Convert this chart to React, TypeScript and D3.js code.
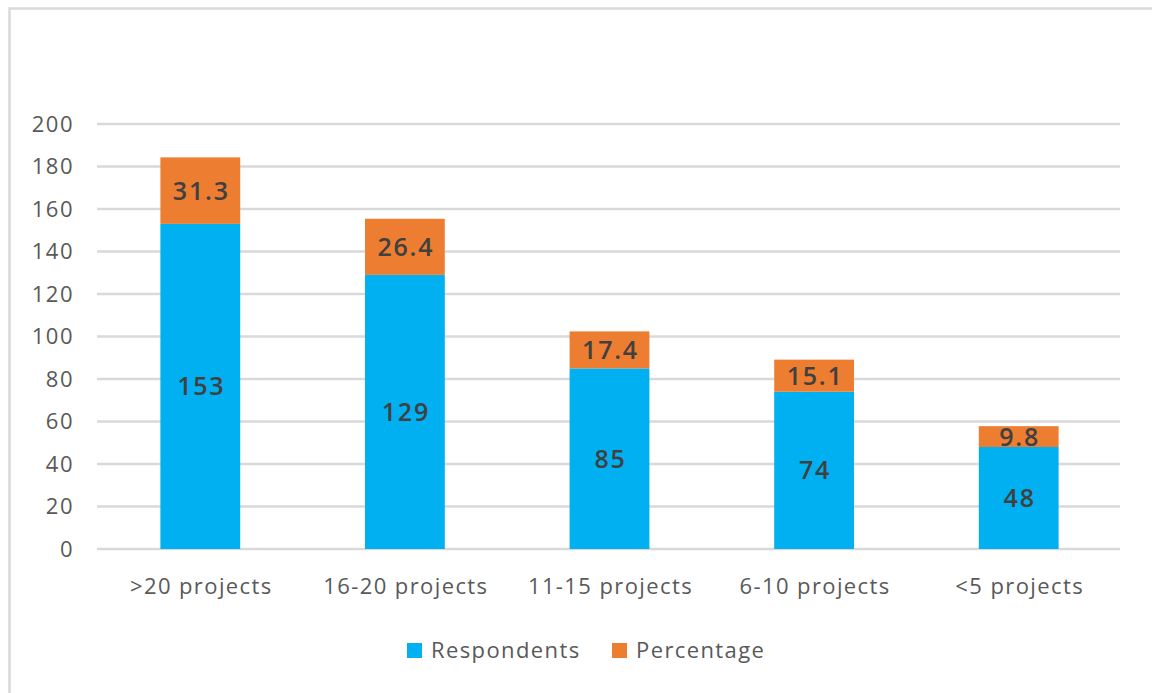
import React from "react";
import * as d3 from "d3";

const categories = [">20 projects", "16-20 projects", "11-15 projects", "6-10 projects", "<5 projects"];
const respondents = [153, 129, 85, 74, 48];
const percentage = [31.3, 26.4, 17.4, 15.1, 9.8];
const yTicks = [0, 20, 40, 60, 80, 100, 120, 140, 160, 180, 200];
const seriesNames = ["Respondents", "Percentage"];
const seriesColors = ["#00b0f0", "#ed7d31"];

const W = 1152;
const H = 693;
const plot = { left: 98, right: 1121, top: 124, bottom: 549 };
const FONT = "'Open Sans', 'Noto Sans', sans-serif";

export default function App() {
  const x = d3
    .scaleBand<string>()
    .domain(categories)
    .range([plot.left, plot.right])
    .paddingInner(0.61)
    .paddingOuter(0.305);
  const y = d3.scaleLinear().domain([0, 200]).range([plot.bottom, plot.top]);

  const rows = categories.map((c, i) => ({ c, Respondents: respondents[i], Percentage: percentage[i] }));
  const stacked = d3.stack<any>().keys(seriesNames)(rows);

  return (
    <svg
      width={W}
      height={H}
      style={{ position: "absolute", left: 0, top: 0, background: "#fff" }}
      fontFamily={FONT}
    >
      {/* chart frame */}
      <rect x={9.5} y={8.5} width={W + 10} height={H + 10} fill="none" stroke="#d9d9d9" strokeWidth={2.5} />

      {/* gridlines and y tick labels */}
      {yTicks.map((t) => (
        <g key={t}>
          <line x1={plot.left - 1} x2={plot.right - 1} y1={y(t)} y2={y(t)} stroke="#d9d9d9" strokeWidth={2.5} />
          <text x={74} y={y(t)} dy="0.35em" textAnchor="end" fontSize={22} letterSpacing={1.5} fill="#595959">
            {t}
          </text>
        </g>
      ))}

      {/* stacked bars */}
      {stacked.map((layer, si) => (
        <g key={layer.key}>
          {layer.map((d, i) => (
            <rect
              key={i}
              x={x(categories[i])}
              width={x.bandwidth()}
              y={y(d[1])}
              height={y(d[0]) - y(d[1])}
              fill={seriesColors[si]}
            />
          ))}
        </g>
      ))}

      {/* value labels */}
      {stacked.map((layer, si) => (
        <g key={"lbl" + layer.key}>
          {layer.map((d, i) => (
            <text
              key={i}
              x={(x(categories[i]) as number) + x.bandwidth() / 2 + 1}
              y={(y(d[0]) + y(d[1])) / 2}
              dy="0.36em"
              textAnchor="middle"
              fontSize={25}
              fontWeight={600}
              letterSpacing={1.8}
              fill="#404040"
            >
              {si === 0 ? respondents[i] : percentage[i].toFixed(1)}
            </text>
          ))}
        </g>
      ))}

      {/* category labels */}
      {categories.map((c) => (
        <text
          key={c}
          x={(x(c) as number) + x.bandwidth() / 2 + 1}
          y={586}
          dy="0.35em"
          textAnchor="middle"
          fontSize={22}
          letterSpacing={1.4}
          fill="#595959"
        >
          {c}
        </text>
      ))}

      {/* legend */}
      <g>
        <rect x={407} y={643} width={15} height={15} fill={seriesColors[0]} />
        <text x={431} y={650} dy="0.35em" fontSize={22} letterSpacing={1.4} fill="#595959">
          {seriesNames[0]}
        </text>
        <rect x={612} y={643} width={15} height={15} fill={seriesColors[1]} />
        <text x={636} y={650} dy="0.35em" fontSize={22} letterSpacing={1.4} fill="#595959">
          {seriesNames[1]}
        </text>
      </g>
    </svg>
  );
}
